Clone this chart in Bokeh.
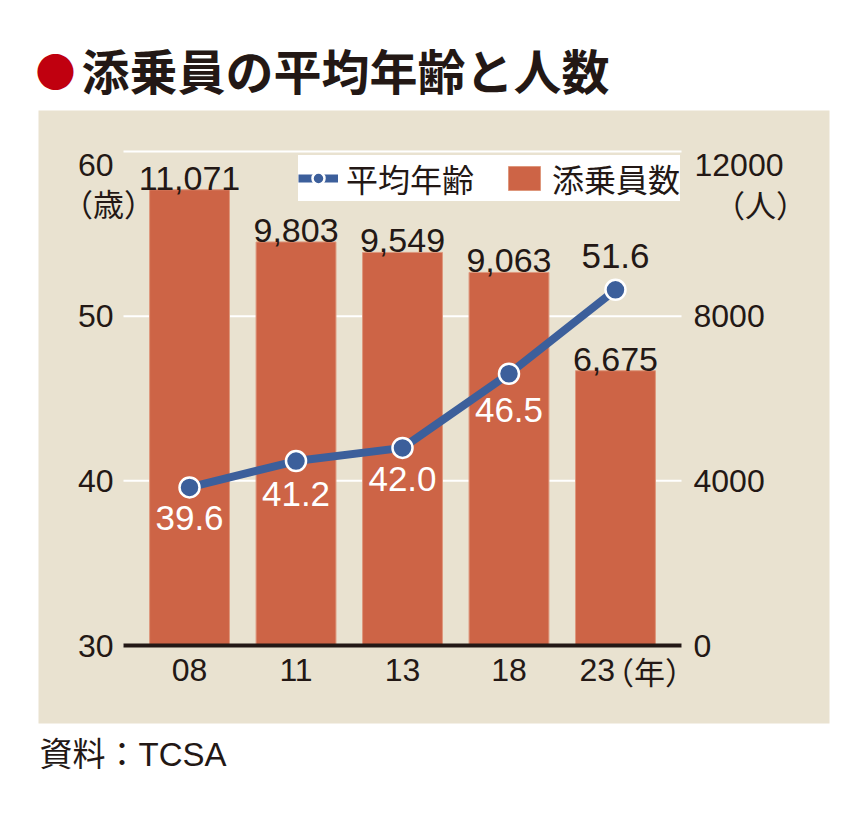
from bokeh.plotting import figure
from bokeh.models import (Range1d, LinearAxis, FixedTicker, Label, BoxAnnotation,
                          ColumnDataSource, Legend, LegendItem)
from bokeh.embed import file_html
from bokeh.resources import INLINE
from bokeh.core.properties import value

# ---- data ----
years = ["08", "11", "13", "18", "23"]
avg_age = [39.6, 41.2, 42.0, 46.5, 51.6]
staff = [11071, 9803, 9549, 9063, 6675]
age_ticks = [30, 40, 50, 60]
staff_ticks = [0, 4000, 8000, 12000]

# ---- styles / layout ----
BG = "#E9E2D0"
BAR = "#CD6446"
BLUE = "#3C5F9B"
TXT = "#231815"
RED = "#C0000F"
NUM_FONT = "Liberation Sans"
JP_FONT = "Noto Sans CJK JP"
MIX_FONT = "Liberation Sans, Noto Sans CJK JP"
age_label_offset = [31, 33, 31, 36, -34]
age_label_color = ["white", "white", "white", "white", TXT]
last_label_shift = -0.17   # "23" label sits left to make room for （年）

W, H = 868, 813
PL, PR, PT, PB = 123, 681, 151, 645      # plot area in pixels
XPAD = 0.62
AGE_MIN, AGE_MAX = 30, 60
STAFF_MIN, STAFF_MAX = 0, 12000

n = len(years)
sx = (PR - PL) / ((n - 1) + 2 * XPAD)
x0 = -XPAD - PL / sx
x1 = (n - 1) + XPAD + (W - PR) / sx
sy = (PB - PT) / (AGE_MAX - AGE_MIN)
y0 = AGE_MIN - (H - PB) / sy
y1 = AGE_MAX + PT / sy
ss = (PB - PT) / (STAFF_MAX - STAFF_MIN)
s0 = STAFF_MIN - (H - PB) / ss
s1 = STAFF_MAX + PT / ss
left_x = -XPAD
right_x = (n - 1) + XPAD

idx = list(range(n))
src = ColumnDataSource(dict(
    x=idx, age=avg_age, staff=staff,
    staff_txt=[f"{v:,}" for v in staff],
    age_txt=[f"{v:.1f}" for v in avg_age],
    age_dy=age_label_offset, age_col=age_label_color,
))

p = figure(width=W, height=H, output_backend="svg", toolbar_location=None,
           x_range=Range1d(x0, x1), y_range=Range1d(y0, y1),
           x_axis_location=None, y_axis_location=None, min_border=0)
p.extra_y_ranges = {"staff": Range1d(s0, s1)}
p.background_fill_color = "white"
p.border_fill_color = "white"
p.outline_line_color = None
p.xgrid.visible = False
p.ygrid.visible = False

# beige panel
p.add_layout(BoxAnnotation(left=38, right=829, top=110, bottom=723,
                           left_units="canvas", right_units="canvas",
                           top_units="canvas", bottom_units="canvas",
                           fill_color=BG, fill_alpha=1, line_color=None,
                           level="image"))

# grid lines (white)
p.segment(x0=[left_x] * len(age_ticks), x1=[right_x] * len(age_ticks),
          y0=age_ticks, y1=age_ticks, line_color="white", line_width=2,
          level="underlay")

def style_axis(ax, standoff):
    ax.major_tick_line_color = None
    ax.minor_tick_line_color = None
    ax.major_tick_out = 0
    ax.major_tick_in = 0
    ax.major_label_standoff = standoff
    ax.major_label_text_font = NUM_FONT
    ax.major_label_text_font_size = "32px"
    ax.major_label_text_color = TXT

# bottom axis
xticks = [float(i) for i in idx]
xticks[-1] = xticks[-1] + last_label_shift
xax = LinearAxis(ticker=FixedTicker(ticks=xticks), fixed_location=AGE_MIN,
                 bounds=(left_x, right_x))
xax.major_label_overrides = {t: y for t, y in zip(xticks, years)}
xax.axis_line_width = 4
xax.axis_line_color = TXT
style_axis(xax, 13)
p.add_layout(xax, "below")

# left axis
lax = LinearAxis(ticker=FixedTicker(ticks=age_ticks), fixed_location=left_x)
lax.major_label_overrides = {AGE_MAX: ""}
lax.axis_line_color = None
style_axis(lax, 10)
p.add_layout(lax, "left")

# right axis
rax = LinearAxis(y_range_name="staff", ticker=FixedTicker(ticks=staff_ticks),
                 fixed_location=right_x)
rax.major_label_overrides = {STAFF_MAX: ""}
rax.axis_line_color = None
style_axis(rax, 12)
p.add_layout(rax, "right")

# glyphs
bars = p.vbar(x="x", top="staff", bottom=0, width=0.75, y_range_name="staff",
              source=src, fill_color=BAR, line_color="#DE977C", line_width=1)
p.text(x="x", y="staff", text="staff_txt", y_range_name="staff", source=src,
       text_align="center", text_baseline="bottom",
       text_font=value(NUM_FONT), text_font_size="34px", text_color=TXT)
line = p.line(x="x", y="age", source=src, line_width=8, line_color=BLUE)
pts = p.scatter(x="x", y="age", source=src, size=20, fill_color=BLUE,
                line_color="white", line_width=2.5)
p.text(x="x", y="age", text="age_txt", source=src, y_offset="age_dy",
       text_align="center", text_baseline="middle",
       text_font=value(NUM_FONT), text_font_size="35px", text_color="age_col")

legend = Legend(items=[LegendItem(label="平均年齢", renderers=[line, pts]),
                       LegendItem(label="添乗員数", renderers=[bars])],
                location=(298, H - 201), orientation="horizontal",
                background_fill_color="white", background_fill_alpha=1,
                border_line_color=None, padding=8, margin=0,
                glyph_width=40, glyph_height=30, label_standoff=8, spacing=30,
                label_text_font=JP_FONT, label_text_font_size="32px",
                label_text_color=TXT, label_text_baseline="middle")
p.add_layout(legend)

# other texts
def lab(text, x, y, size, font, color=TXT, align="left", style="normal"):
    p.add_layout(Label(text=text, x=x, y=y, x_units="canvas", y_units="canvas",
                       text_font=font, text_font_size=size, text_color=color,
                       text_align=align, text_baseline="middle",
                       text_font_style=style))

lab("●", 55, 69, "40px", JP_FONT, color=RED, align="center")
lab("添乗員の平均年齢と人数", 81, 68, "48px", JP_FONT, style="bold")
lab("60", 113, 164, "32px", NUM_FONT, align="right")
lab("（歳）", 108, 202, "31px", JP_FONT, align="center")
lab("12000", 694, 164, "32px", NUM_FONT)
lab("（人）", 760, 203, "31px", JP_FONT, align="center")
lab("（年）", 649, 670, "31px", JP_FONT, align="center")
lab("資料：TCSA", 39, 754, "33px", MIX_FONT)

open("out.html", "w").write(file_html(p, INLINE))
